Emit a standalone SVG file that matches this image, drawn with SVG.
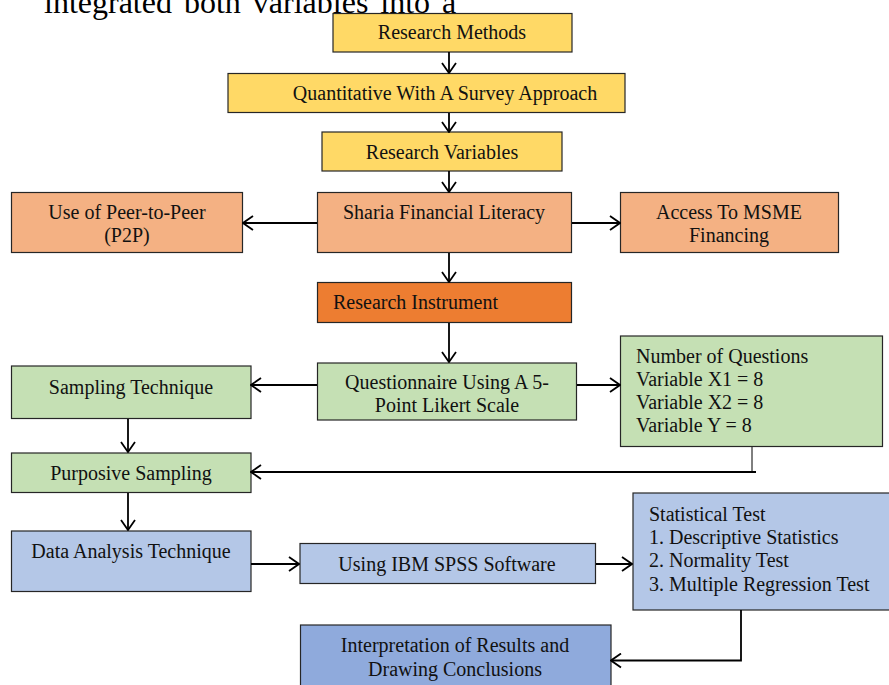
<svg xmlns="http://www.w3.org/2000/svg" width="889" height="685" viewBox="0 0 889 685">
<defs>
<style>
.box{stroke:#262626;stroke-width:1.2}
.y{fill:#FFD966}.o{fill:#F4B183}.od{fill:#ED7D31}.g{fill:#C5E0B4}.b{fill:#B4C7E7}.bd{fill:#8FAADC}
text{font-family:"Liberation Serif","Times New Roman",serif;font-size:20px;fill:#111}
.c{text-anchor:middle}
.conn{fill:none;stroke:#000;stroke-width:1.8}
.thin{fill:none;stroke:#000;stroke-width:1}
.top{font-size:32px;fill:#000}
</style>
<marker id="ah" viewBox="0 0 12 16" refX="11" refY="8" markerWidth="12" markerHeight="16" markerUnits="userSpaceOnUse" orient="auto">
<path d="M1,1 L11,8 L1,15" fill="none" stroke="#000" stroke-width="1.8"/>
</marker>
</defs>
<rect width="889" height="685" fill="#fff"/>
<text class="top" x="44" y="13" word-spacing="4">integrated both variables into a</text>

<g id="research-methods"><rect class="box y" x="333" y="13.5" width="239" height="38.5"/><text class="c" x="452" y="39">Research Methods</text></g>
<g id="quantitative"><rect class="box y" x="228" y="73.5" width="397" height="39"/><text class="c" x="445" y="100">Quantitative With A Survey Approach</text></g>
<g id="research-variables"><rect class="box y" x="322" y="132" width="240" height="39"/><text class="c" x="442" y="159">Research Variables</text></g>
<g id="p2p"><rect class="box o" x="11.5" y="192.5" width="231" height="60"/><text class="c" x="127" y="219">Use of Peer-to-Peer</text><text class="c" x="127" y="242">(P2P)</text></g>
<g id="sharia"><rect class="box o" x="317.5" y="192.5" width="254" height="60"/><text class="c" x="444" y="219">Sharia Financial Literacy</text></g>
<g id="access"><rect class="box o" x="620.5" y="192.5" width="218" height="60"/><text class="c" x="729" y="219">Access To MSME</text><text class="c" x="729" y="242">Financing</text></g>
<g id="research-instrument"><rect class="box od" x="317.5" y="282.5" width="254" height="40"/><text x="333" y="309">Research Instrument</text></g>
<g id="questionnaire"><rect class="box g" x="317.5" y="363" width="259" height="57"/><text class="c" x="447" y="389">Questionnaire Using A 5-</text><text class="c" x="447" y="412">Point Likert Scale</text></g>
<g id="number-questions"><rect class="box g" x="620.5" y="336" width="262" height="110.5"/><text x="636" y="363">Number of Questions</text><text x="636" y="386">Variable X1 = 8</text><text x="636" y="409">Variable X2 = 8</text><text x="636" y="432">Variable Y = 8</text></g>
<g id="sampling-technique"><rect class="box g" x="11.5" y="366" width="239.5" height="52.5"/><text class="c" x="131" y="394">Sampling Technique</text></g>
<g id="purposive-sampling"><rect class="box g" x="11.5" y="453" width="239.5" height="39.5"/><text class="c" x="131" y="480">Purposive Sampling</text></g>
<g id="data-analysis"><rect class="box b" x="11.5" y="531" width="239.5" height="60.5"/><text class="c" x="131" y="558">Data Analysis Technique</text></g>
<g id="spss"><rect class="box b" x="300" y="543.5" width="295.5" height="40"/><text class="c" x="447" y="571">Using IBM SPSS Software</text></g>
<g id="statistical-test"><rect class="box b" x="633" y="493" width="262" height="117"/><text x="649" y="521">Statistical Test</text><text x="649" y="544">1. Descriptive Statistics</text><text x="649" y="567">2. Normality Test</text><text x="649" y="591">3. Multiple Regression Test</text></g>
<g id="interpretation"><rect class="box bd" x="300.5" y="625" width="310.5" height="65"/><text class="c" x="455" y="652">Interpretation of Results and</text><text class="c" x="455" y="676">Drawing Conclusions</text></g>

<g id="connectors">
<line class="conn" x1="449" y1="52" x2="449" y2="73" marker-end="url(#ah)"/>
<line class="conn" x1="449" y1="113" x2="449" y2="132" marker-end="url(#ah)"/>
<line class="conn" x1="449" y1="171" x2="449" y2="192" marker-end="url(#ah)"/>
<line class="conn" x1="317" y1="223" x2="243" y2="223" marker-end="url(#ah)"/>
<line class="conn" x1="572" y1="223" x2="620" y2="223" marker-end="url(#ah)"/>
<line class="conn" x1="449" y1="253" x2="449" y2="282" marker-end="url(#ah)"/>
<line class="conn" x1="449" y1="323" x2="449" y2="362" marker-end="url(#ah)"/>
<line class="conn" x1="317" y1="385" x2="251" y2="385" marker-end="url(#ah)"/>
<line class="conn" x1="577" y1="385" x2="620" y2="385" marker-end="url(#ah)"/>
<line class="conn" x1="128" y1="419" x2="128" y2="452" marker-end="url(#ah)"/>
<line class="thin" x1="752" y1="447" x2="752" y2="472"/>
<line class="conn" x1="756" y1="472" x2="251" y2="472" marker-end="url(#ah)"/>
<line class="conn" x1="128" y1="493" x2="128" y2="530" marker-end="url(#ah)"/>
<line class="conn" x1="251" y1="564" x2="299" y2="564" marker-end="url(#ah)"/>
<line class="conn" x1="596" y1="564" x2="632" y2="564" marker-end="url(#ah)"/>
<polyline class="conn" points="741,610 741,660.5 611,660.5" marker-end="url(#ah)"/>
</g>
</svg>
